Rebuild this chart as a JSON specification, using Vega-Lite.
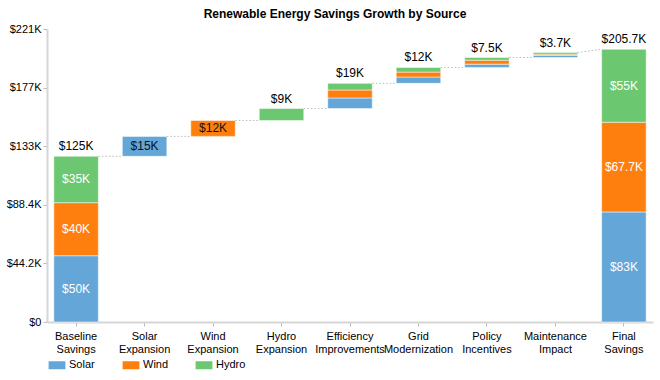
{
  "$schema": "https://vega.github.io/schema/vega-lite/v6.json",
  "width": 606,
  "height": 293,
  "autosize": {"type": "none"},
  "padding": {"left": 47, "top": 29, "right": 7, "bottom": 58},
  "background": "white",
  "config": {"font": "Liberation Sans", "view": {"stroke": null}},
  "title": {"text": "Renewable Energy Savings Growth by Source", "fontSize": 12, "fontWeight": "bold", "anchor": "middle", "frame": "group", "dx": -15, "offset": 2, "color": "#000"},
  "datasets": {
    "segs": [
      {"step": "Baseline Savings", "source": "Solar", "lo": 0, "hi": 50000},
      {"step": "Baseline Savings", "source": "Wind", "lo": 50000, "hi": 90000},
      {"step": "Baseline Savings", "source": "Hydro", "lo": 90000, "hi": 125000},
      {"step": "Solar Expansion", "source": "Solar", "lo": 125000, "hi": 140000},
      {"step": "Wind Expansion", "source": "Wind", "lo": 140000, "hi": 152000},
      {"step": "Hydro Expansion", "source": "Hydro", "lo": 152000, "hi": 161000},
      {"step": "Efficiency Improvements", "source": "Solar", "lo": 161000, "hi": 169000},
      {"step": "Efficiency Improvements", "source": "Wind", "lo": 169000, "hi": 175000},
      {"step": "Efficiency Improvements", "source": "Hydro", "lo": 175000, "hi": 180000},
      {"step": "Grid Modernization", "source": "Solar", "lo": 180000, "hi": 184800},
      {"step": "Grid Modernization", "source": "Wind", "lo": 184800, "hi": 188500},
      {"step": "Grid Modernization", "source": "Hydro", "lo": 188500, "hi": 192000},
      {"step": "Policy Incentives", "source": "Solar", "lo": 192000, "hi": 194500},
      {"step": "Policy Incentives", "source": "Wind", "lo": 194500, "hi": 197500},
      {"step": "Policy Incentives", "source": "Hydro", "lo": 197500, "hi": 199500},
      {"step": "Maintenance Impact", "source": "Solar", "lo": 199500, "hi": 201000},
      {"step": "Maintenance Impact", "source": "Wind", "lo": 201000, "hi": 202000},
      {"step": "Maintenance Impact", "source": "Hydro", "lo": 202000, "hi": 203200},
      {"step": "Final Savings", "source": "Solar", "lo": 0, "hi": 83000},
      {"step": "Final Savings", "source": "Wind", "lo": 83000, "hi": 150700},
      {"step": "Final Savings", "source": "Hydro", "lo": 150700, "hi": 205700}
    ],
    "links": [
      {"from": "Baseline Savings", "to": "Solar Expansion", "y": 125000, "y2": 125000},
      {"from": "Solar Expansion", "to": "Wind Expansion", "y": 140000, "y2": 140000},
      {"from": "Wind Expansion", "to": "Hydro Expansion", "y": 152000, "y2": 152000},
      {"from": "Hydro Expansion", "to": "Efficiency Improvements", "y": 161000, "y2": 161000},
      {"from": "Efficiency Improvements", "to": "Grid Modernization", "y": 180000, "y2": 180000},
      {"from": "Grid Modernization", "to": "Policy Incentives", "y": 192000, "y2": 192000},
      {"from": "Policy Incentives", "to": "Maintenance Impact", "y": 199500, "y2": 199500},
      {"from": "Maintenance Impact", "to": "Final Savings", "y": 203200, "y2": 205700}
    ],
    "totals": [
      {"step": "Baseline Savings", "value": 125000, "text": "$125K"},
      {"step": "Hydro Expansion", "value": 161000, "text": "$9K"},
      {"step": "Efficiency Improvements", "value": 180000, "text": "$19K"},
      {"step": "Grid Modernization", "value": 192000, "text": "$12K"},
      {"step": "Policy Incentives", "value": 199500, "text": "$7.5K"},
      {"step": "Maintenance Impact", "value": 203200, "text": "$3.7K"},
      {"step": "Final Savings", "value": 205700, "text": "$205.7K"}
    ],
    "inner": [
      {"step": "Baseline Savings", "mid": 25000, "text": "$50K", "color": "white"},
      {"step": "Baseline Savings", "mid": 70000, "text": "$40K", "color": "white"},
      {"step": "Baseline Savings", "mid": 107500, "text": "$35K", "color": "white"},
      {"step": "Solar Expansion", "mid": 132500, "text": "$15K", "color": "#111"},
      {"step": "Wind Expansion", "mid": 146000, "text": "$12K", "color": "#111"},
      {"step": "Final Savings", "mid": 41500, "text": "$83K", "color": "white"},
      {"step": "Final Savings", "mid": 116850, "text": "$67.7K", "color": "white"},
      {"step": "Final Savings", "mid": 178200, "text": "$55K", "color": "white"}
    ]
  },
  "layer": [
    {
      "data": {"name": "segs"},
      "mark": {"type": "bar", "stroke": "white", "strokeWidth": 1, "strokeOpacity": 0.5},
      "encoding": {
        "x": {
          "field": "step", "type": "nominal",
          "scale": {"domain": ["Baseline Savings", "Solar Expansion", "Wind Expansion", "Hydro Expansion", "Efficiency Improvements", "Grid Modernization", "Policy Incentives", "Maintenance Impact", "Final Savings"], "paddingInner": 0.35, "paddingOuter": 0.1},
          "axis": {"title": null, "bandPosition": 0.5, "labelAngle": 0, "labelAlign": "center", "labelExpr": "split(datum.label, ' ')", "labelFontSize": 11, "labelLineHeight": 13, "labelColor": "#000", "tickSize": 4, "labelPadding": 4, "domainColor": "#d6d6d6", "domainWidth": 2, "tickColor": "#bbbbbb"}
        },
        "y": {
          "field": "lo", "type": "quantitative",
          "scale": {"domain": [0, 221000], "nice": false},
          "axis": {"title": null, "grid": false, "values": [0, 44200, 88400, 132600, 176800, 221000], "labelExpr": "'$' + replace(format(datum.value, '.3~s'), 'k', 'K')", "labelFontSize": 11, "labelColor": "#000", "tickSize": 4, "labelPadding": 2, "domainColor": "#d6d6d6", "domainWidth": 2, "tickColor": "#bbbbbb"}
        },
        "y2": {"field": "hi"},
        "color": {
          "field": "source", "type": "nominal",
          "scale": {"domain": ["Solar", "Wind", "Hydro"], "range": ["#64a6d7", "#ff7f0e", "#6cc771"]},
          "legend": {"orient": "none", "legendX": 4.5, "legendY": 330.5, "direction": "horizontal", "title": null, "padding": 0, "symbolType": "M-2.1,-1H2.1V1H-2.1Z", "symbolSize": 64, "symbolStrokeWidth": 0, "labelFontSize": 11, "labelColor": "#000", "labelOffset": 6.5, "columnPadding": 27}
        }
      }
    },
    {
      "data": {"name": "links"},
      "mark": {"type": "rule", "color": "#bbbbbb", "strokeWidth": 1, "strokeDash": [1.5, 2]},
      "encoding": {
        "x": {"field": "from", "type": "nominal", "bandPosition": 1, "title": null},
        "x2": {"field": "to", "bandPosition": 0},
        "y": {"field": "y", "type": "quantitative", "title": null},
        "y2": {"field": "y2"}
      }
    },
    {
      "data": {"name": "totals"},
      "mark": {"type": "text", "fontSize": 12, "baseline": "alphabetic", "dy": -6, "color": "#000"},
      "encoding": {
        "x": {"field": "step", "type": "nominal", "title": null},
        "y": {"field": "value", "type": "quantitative", "title": null},
        "text": {"field": "text"}
      }
    },
    {
      "data": {"name": "inner"},
      "mark": {"type": "text", "fontSize": 12, "baseline": "middle"},
      "encoding": {
        "x": {"field": "step", "type": "nominal", "title": null},
        "y": {"field": "mid", "type": "quantitative", "title": null},
        "text": {"field": "text"},
        "color": {"field": "color", "type": "nominal", "scale": null}
      }
    }
  ]
}
